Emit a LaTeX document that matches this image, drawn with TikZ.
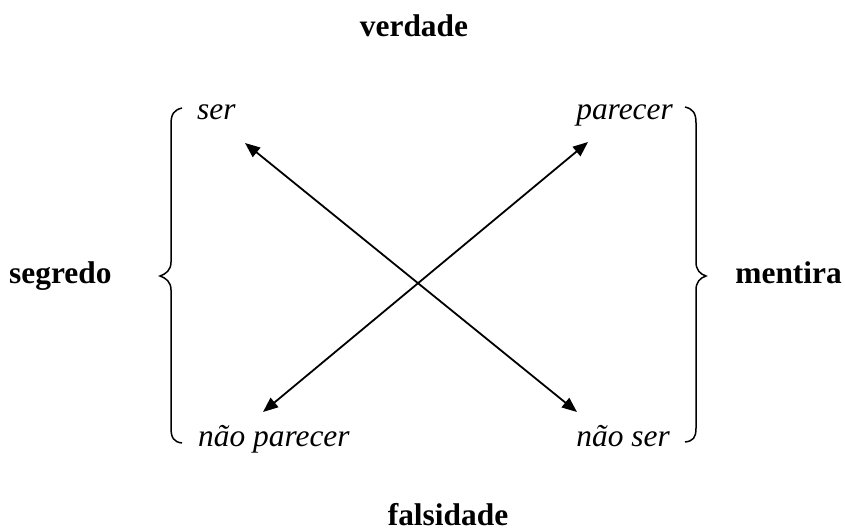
\documentclass[tikz,border=0pt]{standalone}
\usepackage{fontspec}
\setmainfont{Liberation Serif}
\usetikzlibrary{arrows.meta}

\newcommand{\squarefont}{\fontsize{31.4}{38}\selectfont}

\tikzset{
  pole/.style={font=\squarefont\bfseries, inner sep=0pt},
  term/.style={font=\squarefont\itshape, inner sep=0pt},
  contra/.style={{Triangle[length=15pt,width=12pt]}-{Triangle[length=15pt,width=12pt]}, line width=1.8pt},
  bracket/.style={line width=1.5pt}
}

\begin{document}
\begin{tikzpicture}[x=1pt, y=-1pt]
    \useasboundingbox (0,0) rectangle (845,532);
    % axes of the square
    \node[pole, anchor=base] (verdade) at (414,37) {verdade};
    \node[pole, anchor=base] (falsidade) at (448,525) {falsidade};
    \node[pole, anchor=base west] (segredo) at (9,283) {segredo};
    \node[pole, anchor=base east] (mentira) at (842,283) {mentira};
    % terms
    \node[term, anchor=base west] (ser) at (197,119) {ser};
    \node[term, anchor=base east] (parecer) at (673,119) {parecer};
    \node[term, anchor=base west] (naoparecer) at (198,446) {não parecer};
    \node[term, anchor=base east] (naoser) at (670,446) {não ser};
    % arrow ends
    \coordinate (serEnd) at (245,143);
    \coordinate (naoserEnd) at (577,412);
    \coordinate (parecerEnd) at (588,142);
    \coordinate (naoparecerEnd) at (263,412);
    \draw[contra] (serEnd) -- (naoserEnd);
    \draw[contra] (naoparecerEnd) -- (parecerEnd);
    % braces
    \draw[bracket] (182,108) .. controls (174,110) and (171,114) .. (171,124)
      -- (171,262) .. controls (171,270) and (166,274) .. (160,276)
      .. controls (166,278) and (171,282) .. (171,290)
      -- (171,428) .. controls (171,438) and (174,442) .. (182,443);
    \draw[bracket] (685,107) .. controls (693,109) and (696,113) .. (696,123)
      -- (696,262) .. controls (696,270) and (700,274) .. (706,276)
      .. controls (700,278) and (696,282) .. (696,290)
      -- (696,428) .. controls (696,438) and (693,441) .. (685,442);
\end{tikzpicture}
\end{document}
